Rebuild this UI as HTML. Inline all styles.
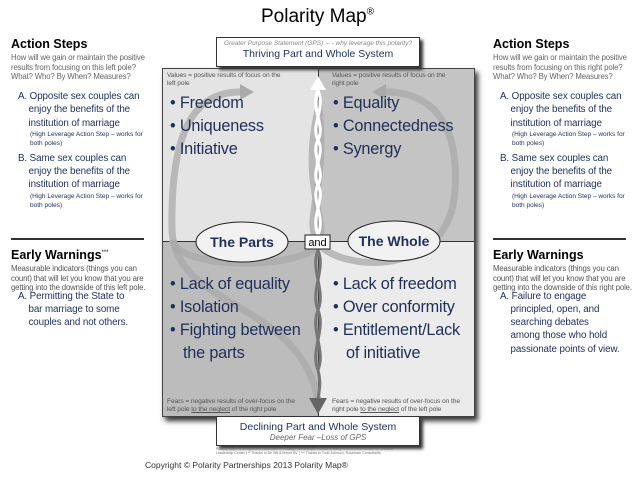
<!DOCTYPE html>
<html><head><meta charset="utf-8"><style>
body{margin:0;width:635px;height:478px;background:#fff;font-family:"Liberation Sans",sans-serif;position:relative;overflow:hidden}
.a{position:absolute}
h3{margin:0;font-size:12.5px;font-weight:bold;color:#000}
.sub{font-size:7.8px;color:#666;line-height:9.5px;letter-spacing:-0.15px}
.item{font-size:9.8px;color:#1f2f5a;line-height:13.3px;letter-spacing:-0.1px}
.sm{font-size:6.5px;color:#1f2f5a;line-height:9px}
.big{font-size:16.3px;color:#1f2f5a;line-height:23px;letter-spacing:-0.2px}
.q{font-size:6.7px;color:#555;line-height:8px;letter-spacing:-0.1px}
</style></head><body>
<div class="a" style="left:0;width:635px;top:6px;text-align:center;font-size:19px">Polarity Map<sup style="font-size:10px">®</sup></div>

<div class="a" style="left:162px;top:68px;width:313px;height:349px;box-shadow:3px 4px 5px #333"></div>
<div class="a" style="left:162px;top:68px;width:156px;height:174px;background:#e4e4e4"></div>
<div class="a" style="left:318px;top:68px;width:157px;height:174px;background:#c4c4c4"></div>
<div class="a" style="left:162px;top:242px;width:156px;height:175px;background:#bcbcbc"></div>
<div class="a" style="left:318px;top:242px;width:157px;height:175px;background:#ebebeb"></div>
<div class="a" style="left:162px;top:241px;width:313px;height:1px;background:#333"></div>
<div class="a" style="left:318px;top:68px;width:1px;height:349px;background:#333"></div>
<div class="a" style="left:162px;top:68px;width:313px;height:349px;border:1px solid #444;box-sizing:border-box"></div>

<svg class="a" style="left:0;top:0" width="635" height="478">
<g fill="none" stroke="#aaa" stroke-opacity="0.75" stroke-width="7">
<path d="M318 400 C300 300 175 310 172 230 C170 120 200 90 245 92"/>
<path d="M318 100 C330 190 300 220 320 245 C340 270 450 280 455 190 C460 110 420 90 380 92"/>
<path d="M318 110 C300 190 330 220 318 245 C300 270 180 270 172 240"/>
</g>
<path d="M240 84 L254 92 L240 100Z" fill="#aaa"/>
<path d="M386 84 L372 92 L386 100Z" fill="#aaa"/>
<g fill="none" stroke="#fff" stroke-width="3">
<path d="M318 90 C326 110 310 125 318 140 C326 155 310 170 318 185 C326 200 310 215 318 235"/>
<path d="M318 90 C310 110 326 125 318 140 C310 155 326 170 318 185 C310 200 326 215 318 235"/>
</g>
<path d="M310 90 L318 76 L326 90Z" fill="#fff"/>
<g fill="none" stroke="#777" stroke-width="3">
<path d="M318 250 C326 270 310 290 318 310 C326 330 310 350 318 370 C322 385 318 395 318 400"/>
<path d="M318 250 C310 270 326 290 318 310 C310 330 326 350 318 370"/>
</g>
<path d="M309 398 L318 414 L327 398Z" fill="#666"/>
<ellipse cx="242" cy="242" rx="46" ry="20" fill="#f2f2f2" stroke="#222" stroke-width="1"/>
<ellipse cx="394" cy="241" rx="46" ry="20" fill="#f2f2f2" stroke="#222" stroke-width="1"/>
<text x="242" y="247" text-anchor="middle" font-family="Liberation Sans" font-weight="bold" font-size="14" fill="#1f2f5a">The Parts</text>
<text x="394" y="246" text-anchor="middle" font-family="Liberation Sans" font-weight="bold" font-size="14" fill="#1f2f5a">The Whole</text>
<rect x="305" y="235" width="25" height="14" fill="#fff" stroke="#222"/>
<text x="317.5" y="246" text-anchor="middle" font-family="Liberation Sans" font-size="11">and</text>
</svg>

<div class="a" style="left:216px;top:37px;width:204px;height:30px;background:#fff;border:1px solid #333;box-sizing:border-box;box-shadow:3px 3px 3px #333;text-align:center">
<div style="font-size:6.5px;color:#888;font-style:italic;margin-top:2px;white-space:nowrap">Greater Purpose Statement (GPS) ←- why leverage this polarity?</div>
<div style="font-size:10.5px;color:#1f2f5a;margin-top:1px">Thriving Part and Whole System</div></div>

<div class="a" style="left:216px;top:416px;width:204px;height:30px;background:#fff;border:1px solid #333;box-sizing:border-box;box-shadow:3px 3px 3px #333;text-align:center">
<div style="font-size:10.5px;color:#1f2f5a;margin-top:4px">Declining Part and Whole System</div>
<div style="font-size:8px;color:#666;font-style:italic">Deeper Fear –Loss of GPS</div></div>

<div class="a q" style="left:167px;top:72px">Values = positive results of focus on the<br>left pole</div>
<div class="a q" style="left:332px;top:72px">Values = positive results of focus on the<br>right pole</div>
<div class="a q" style="left:167px;top:398px">Fears = negative results of over-focus on the<br>left pole <u>to the neglect</u> of the right pole</div>
<div class="a q" style="left:332px;top:398px">Fears = negative results of over-focus on the<br>right pole <u>to the neglect</u> of the left pole</div>

<div class="a big" style="left:170px;top:92px">• Freedom<br>• Uniqueness<br>• Initiative</div>
<div class="a big" style="left:333px;top:92px">• Equality<br>• Connectedness<br>• Synergy</div>
<div class="a big" style="left:170px;top:273px">• Lack of equality<br>• Isolation<br>• Fighting between<br>&nbsp;&nbsp;&nbsp;the parts</div>
<div class="a big" style="left:333px;top:273px">• Lack of freedom<br>• Over conformity<br>• Entitlement/Lack<br>&nbsp;&nbsp;&nbsp;of initiative</div>

<div class="a" style="left:216px;top:447px;font-size:3.5px;color:#777;line-height:4px;width:210px">Polarity Map® is a registered trademark of Polarity Partnerships; Thanks to Barry Johnson and Center for Creative<br>Leadership Center | ** Thanks to De Wit &amp; Meyer BV | *** Thanks to Todd Johnson, Rosetown Consultants</div>
<div class="a" style="left:145px;top:460px;font-size:8.5px;color:#333">Copyright © Polarity Partnerships 2013 Polarity Map®</div>

<div class="a" style="left:11px;top:37px;width:140px">
<h3>Action Steps</h3>
<div class="sub" style="margin-top:2px">How will we gain or maintain the positive results from focusing on this left pole? What? Who? By When? Measures?</div>
</div>
<div class="a" style="left:18px;top:90px;width:135px">
<div class="item">A.&nbsp;Opposite sex couples can<br>&nbsp;&nbsp;&nbsp;&nbsp;enjoy the benefits of the<br>&nbsp;&nbsp;&nbsp;&nbsp;institution of marriage</div>
<div class="sm" style="padding-left:12px">(High Leverage Action Step – works for both poles)</div>
<div class="item" style="margin-top:4px">B.&nbsp;Same sex couples can<br>&nbsp;&nbsp;&nbsp;&nbsp;enjoy the benefits of the<br>&nbsp;&nbsp;&nbsp;&nbsp;institution of marriage</div>
<div class="sm" style="padding-left:12px">(High Leverage Action Step – works for both poles)</div>
</div>
<div class="a" style="left:11px;top:238px;width:133px;height:2px;background:#333"></div>
<div class="a" style="left:11px;top:248px;width:140px">
<h3>Early Warnings<sup style="font-size:6px;font-weight:normal">***</sup></h3>
<div class="sub" style="margin-top:2px;color:#555">Measurable indicators (things you can count) that will let you know that you are getting into the downside of this left pole.</div>
<div class="item" style="margin-top:-3px;padding-left:7px">A.&nbsp;Permitting the State to<br>&nbsp;&nbsp;&nbsp;&nbsp;bar marriage to some<br>&nbsp;&nbsp;&nbsp;&nbsp;couples and not others.</div>
</div>

<div class="a" style="left:493px;top:37px;width:140px">
<h3>Action Steps</h3>
<div class="sub" style="margin-top:2px">How will we gain or maintain the positive results from focusing on this right pole? What? Who? By When? Measures?</div>
</div>
<div class="a" style="left:500px;top:90px;width:135px">
<div class="item">A.&nbsp;Opposite sex couples can<br>&nbsp;&nbsp;&nbsp;&nbsp;enjoy the benefits of the<br>&nbsp;&nbsp;&nbsp;&nbsp;institution of marriage</div>
<div class="sm" style="padding-left:12px">(High Leverage Action Step – works for both poles)</div>
<div class="item" style="margin-top:4px">B.&nbsp;Same sex couples can<br>&nbsp;&nbsp;&nbsp;&nbsp;enjoy the benefits of the<br>&nbsp;&nbsp;&nbsp;&nbsp;institution of marriage</div>
<div class="sm" style="padding-left:12px">(High Leverage Action Step – works for both poles)</div>
</div>
<div class="a" style="left:493px;top:238px;width:133px;height:2px;background:#333"></div>
<div class="a" style="left:493px;top:248px;width:140px">
<h3>Early Warnings</h3>
<div class="sub" style="margin-top:2px;color:#555">Measurable indicators (things you can count) that will let you know that you are getting into the downside of this right pole.</div>
<div class="item" style="margin-top:-3px;padding-left:7px">A.&nbsp;Failure to engage<br>&nbsp;&nbsp;&nbsp;&nbsp;principled, open, and<br>&nbsp;&nbsp;&nbsp;&nbsp;searching debates<br>&nbsp;&nbsp;&nbsp;&nbsp;among those who hold<br>&nbsp;&nbsp;&nbsp;&nbsp;passionate points of view.</div>
</div>
</body></html>
